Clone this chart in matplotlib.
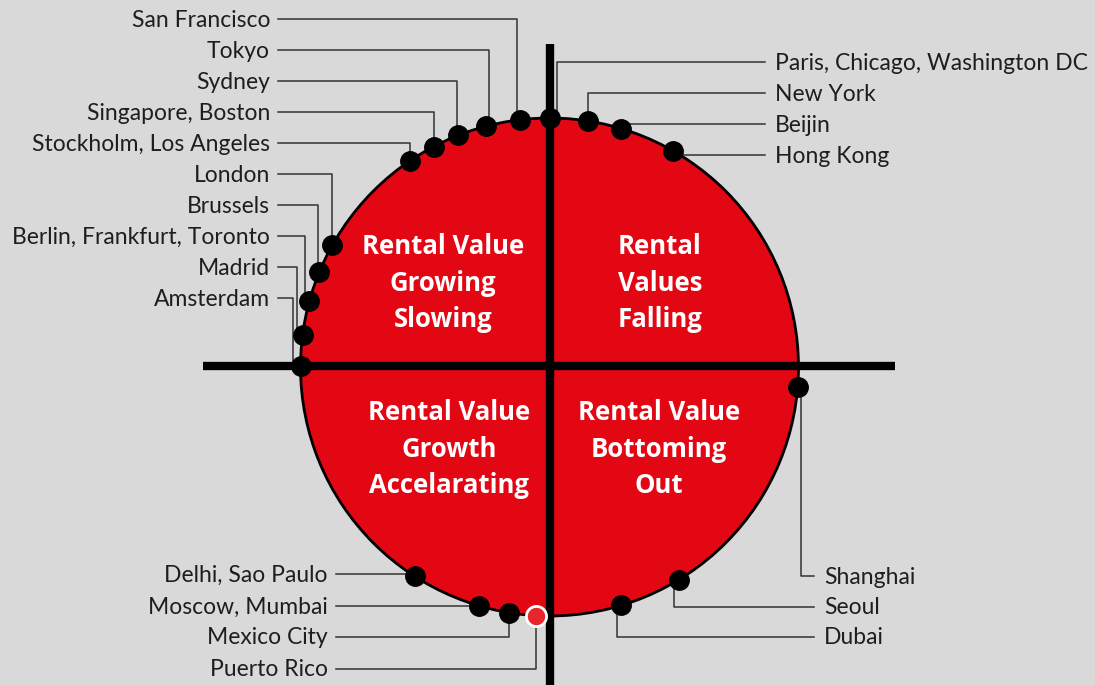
import numpy as np
import matplotlib.pyplot as plt
from matplotlib.patches import Circle

# cities on the clock, angle in degrees (0 = east, counter-clockwise)
top_left_cities = ["San Francisco", "Tokyo", "Sydney", "Singapore, Boston",
                   "Stockholm, Los Angeles", "London", "Brussels",
                   "Berlin, Frankfurt, Toronto", "Madrid", "Amsterdam"]
top_left_angles = [96.7, 104.7, 111.5, 117.7, 124.1, 150.7, 157.6, 164.7, 172.6, 179.7]

top_right_cities = ["Paris, Chicago, Washington DC", "New York", "Beijin", "Hong Kong"]
top_right_angles = [90.0, 81.2, 73.2, 60.2]

bottom_right_cities = ["Shanghai", "Seoul", "Dubai"]
bottom_right_angles = [-4.5, -58.7, -73.3]

bottom_left_cities = ["Delhi, Sao Paulo", "Moscow, Mumbai", "Mexico City", "Puerto Rico"]
bottom_left_angles = [237.2, 253.6, 260.7, 266.9]

quadrant_titles = ["Rental Value\nGrowing\nSlowing", "Rental\nValues\nFalling",
                   "Rental Value\nGrowth\nAccelarating", "Rental Value\nBottoming\nOut"]

# layout (pixels)
W, H = 1095, 685
cx, cy, r = 549.5, 367, 249
bg = "#d9d9d9"
red = "#e30613"
label_font = dict(family=["Lato", "DejaVu Sans"], fontsize=16.5, color="#1e1e1e")

fig = plt.figure(figsize=(W / 100, H / 100), dpi=100, facecolor=bg)
ax = fig.add_axes([0, 0, 1, 1])
ax.set_xlim(0, W)
ax.set_ylim(H, 0)
ax.set_facecolor(bg)
ax.axis("off")

ax.add_patch(Circle((cx, cy), r, facecolor=red, edgecolor="black", lw=2, zorder=1))
ax.plot([203, 895], [366, 366], color="black", lw=6, solid_capstyle="butt", zorder=2)
ax.plot([550, 550], [44, H], color="black", lw=6, solid_capstyle="butt", zorder=2)


def pos(angles):
    a = np.radians(angles)
    return cx + r * np.cos(a), cy - r * np.sin(a)


def draw_group(cities, angles, label_x, label_ys, ha, elbow_dx, last_red=False):
    xs, ys = pos(angles)
    for i, (name, x, y, ly, dx) in enumerate(zip(cities, xs, ys, label_ys, elbow_dx)):
        ex = x + dx
        start = label_x + (8 if ha == "right" else -10)
        ax.plot([start, ex, ex], [ly, ly, y], color="#333333", lw=1.1, zorder=3)
        ax.text(label_x, ly + 1, name, ha=ha, va="center", **label_font)
        if last_red and i == len(cities) - 1:
            ax.plot(x, y, "o", ms=14.5, mfc="#e8262c", mec="white", mew=2, zorder=5)
        else:
            ax.plot(x, y, "o", ms=14, mfc="black", mec="black", zorder=5)


draw_group(top_left_cities, top_left_angles, 270, [19 + 31 * i for i in range(10)], "right",
           [-3, 3, -1, 0, 0, 0, -1.6, -4, -5.6, -7.3])
draw_group(top_right_cities, top_right_angles, 775, [62 + 31 * i for i in range(4)], "left",
           [7, 0, 0, 0])
draw_group(bottom_right_cities, bottom_right_angles, 824, [576, 607, 637], "left",
           [3, -5, -4])
draw_group(bottom_left_cities, bottom_left_angles, 328, [574, 606, 637, 669], "right",
           [0, 0, 0, 0], last_red=True)

title_pos = [(443, 283), (660, 283), (449, 449), (659, 449)]
for t, (x, y) in zip(quadrant_titles, title_pos):
    ax.text(x, y, t, ha="center", va="center", color="white", fontsize=18.5,
            fontweight="bold", family=["Open Sans", "DejaVu Sans"], linespacing=1.45, zorder=4)

fig.savefig("out.png", dpi=100, facecolor=bg)
